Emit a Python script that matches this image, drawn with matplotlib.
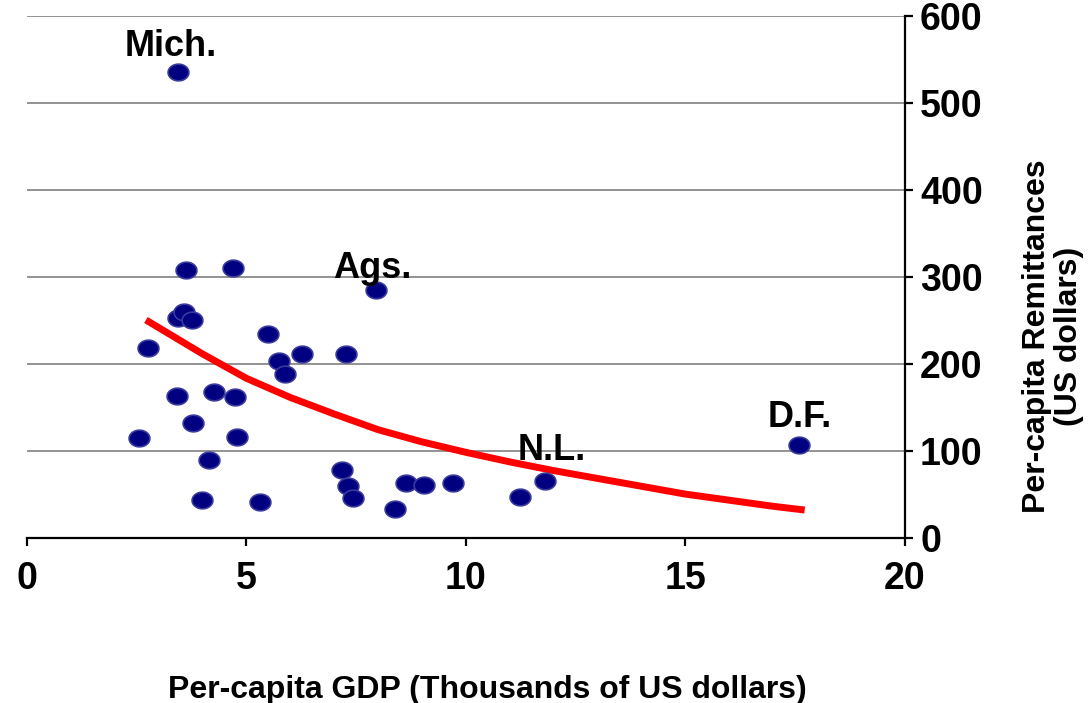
import matplotlib.pyplot as plt
import numpy as np

plt.rcParams['font.family'] = ['Liberation Sans', 'DejaVu Sans']
plt.rcParams['font.weight'] = 'bold'

# per-capita GDP (thousands US$) and per-capita remittances (US$) by state
gdp = [3.44, 3.62, 4.69, 7.95, 3.43, 3.58, 3.75, 2.75, 5.48, 5.74, 6.27,
       7.26, 5.89, 3.42, 4.27, 4.74, 3.79, 2.55, 4.78, 4.15, 7.18, 7.31,
       7.42, 3.99, 5.31, 8.38, 8.63, 9.04, 9.70, 11.23, 11.81, 17.59]
remit = [535.7, 308.3, 310.3, 285.3, 253.6, 259.8, 250.9, 219.1, 234.5,
         203.8, 211.5, 211.5, 188.6, 164.0, 168.6, 162.1, 132.3, 115.1,
         116.9, 90.4, 78.9, 59.9, 46.2, 44.2, 42.3, 33.5, 63.4, 61.4, 63.4,
         48.0, 66.0, 107.4]

# trend line
trend_x = [2.71, 4, 5, 6, 7, 8, 9, 10, 11, 12, 13, 14, 15, 16, 17, 17.72]
trend_y = [251, 212, 184, 162, 143, 125, 111, 99, 88, 78, 69, 60, 51, 44, 37, 32.7]

# labelled states
lab_names = ['Mich.', 'Ags.', 'N.L.', 'D.F.']
lab_x = [3.28, 7.86, 11.95, 17.6]
lab_y = [565, 310, 101, 139]

fig = plt.figure(figsize=(10.89, 7.03), dpi=100)
ax = fig.add_axes([0.0248, 0.234, 0.806, 0.743])

t = np.linspace(0, 2*np.pi, 40)
ell = np.column_stack([np.cos(t)*1.25, np.sin(t)])

ax.plot(trend_x, trend_y, color='#ff0000', lw=5, zorder=2, solid_capstyle='butt')
ax.plot(gdp, remit, ls='none', marker=ell, ms=15, mfc='#000080',
        mec='#3a3a9c', mew=1.2, zorder=3)

for n, x, y in zip(lab_names, lab_x, lab_y):
    ax.text(x, y, n, fontsize=26, fontweight='bold', ha='center', va='center')

ax.set_xlim(0, 20)
ax.set_ylim(0, 600)
ax.set_xticks([0, 5, 10, 15, 20])
ax.set_yticks(range(0, 601, 100))
ax.yaxis.tick_right()
ax.grid(axis='y', color='#808080', lw=1.2)
ax.set_axisbelow(True)

for s in ['left', 'top']:
    ax.spines[s].set_visible(False)
for s in ['right', 'bottom']:
    ax.spines[s].set_linewidth(1.6)

ax.tick_params(axis='both', direction='out', length=6, width=1.6,
               labelsize=27, pad=5)
ax.tick_params(axis='x', pad=10)

fig.text(0.4477, 0.0185, 'Per-capita GDP (Thousands of US dollars)',
         fontsize=23, fontweight='bold', ha='center', va='center')
fig.text(0.967, 0.522, 'Per-capita Remittances\n(US dollars)', fontsize=23,
         fontweight='bold', ha='center', va='center', rotation=90,
         multialignment='center', linespacing=1.12)

fig.savefig('out.png', dpi=100)
